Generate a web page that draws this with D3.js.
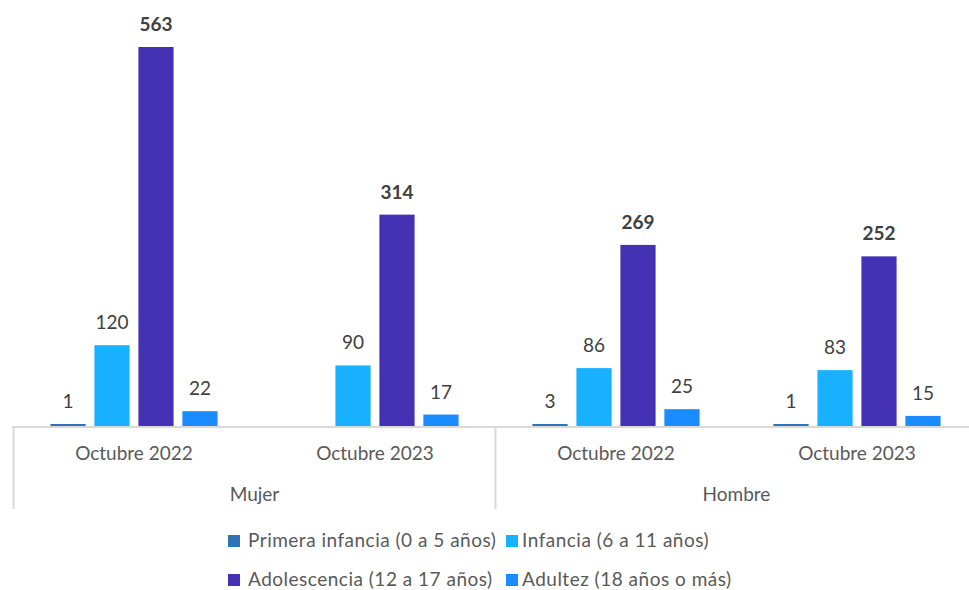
<!DOCTYPE html>
<html>
<head>
<meta charset="utf-8">
<script src="https://cdn.jsdelivr.net/npm/d3@7"></script>
<style>
  body { margin: 0; background: #fff; }
  svg { display: block; font-family: Lato, "Open Sans", sans-serif; }
</style>
</head>
<body>
<svg width="969" height="590"></svg>
<script>
// data
var groups = ["Mujer", "Hombre"];
var periods = ["Octubre 2022", "Octubre 2023"];
var series = ["Primera infancia (0 a 5 años)", "Infancia (6 a 11 años)", "Adolescencia (12 a 17 años)", "Adultez (18 años o más)"];
var colors = ["#2e73b8", "#17b1ff", "#4431b4", "#1a8cff"];
// one row per group/period, in series order (null = no bar)
var mujer2022 = [1, 120, 563, 22];
var mujer2023 = [null, 90, 314, 17];
var hombre2022 = [3, 86, 269, 25];
var hombre2023 = [1, 83, 252, 15];

var rows = [
  { group: "Mujer", period: "Octubre 2022", values: mujer2022 },
  { group: "Mujer", period: "Octubre 2023", values: mujer2023 },
  { group: "Hombre", period: "Octubre 2022", values: hombre2022 },
  { group: "Hombre", period: "Octubre 2023", values: hombre2023 }
];
rows.forEach(function (r, i) { r.key = i; });

var svg = d3.select("svg");
var baseY = 426;

var x0 = d3.scaleBand()
    .domain(rows.map(function (r) { return r.key; }))
    .range([13.5, 977.5]);

var x1 = d3.scaleBand()
    .domain(series)
    .range([0, x0.bandwidth()])
    .paddingInner(0.2)
    .paddingOuter(0.84);

var y = d3.scaleLinear()
    .domain([0, 563])
    .range([baseY, 47]);

var color = d3.scaleOrdinal().domain(series).range(colors);

// axis lines (drawn first so thin bars stay visible)
var lineColor = "#d9d9d9";
svg.append("line")
    .attr("x1", 12).attr("x2", 969)
    .attr("y1", baseY + 1).attr("y2", baseY + 1)
    .attr("stroke", lineColor).attr("stroke-width", 2);

[0, 2].forEach(function (k) {
    var xx = Math.round(x0(k)) - 0.5;
    svg.append("line")
        .attr("x1", xx).attr("x2", xx)
        .attr("y1", baseY).attr("y2", 509)
        .attr("stroke", lineColor).attr("stroke-width", 2);
});

// bars
var cat = svg.selectAll(".cat")
    .data(rows)
    .enter().append("g")
    .attr("class", "cat")
    .attr("transform", function (d) { return "translate(" + x0(d.key) + ",0)"; });

var bars = cat.selectAll(".bar")
    .data(function (d) {
        var vals = d.values;
        var mx = d3.max(vals);
        return series.map(function (s, i) { return { s: s, v: vals[i], max: vals[i] === mx }; })
            .filter(function (b) { return b.v != null; });
    })
    .enter();

bars.append("rect")
    .attr("x", function (d) { return x1(d.s); })
    .attr("width", x1.bandwidth())
    .attr("y", function (d) { return Math.min(y(d.v), baseY - 2); })
    .attr("height", function (d) { return Math.max(baseY - y(d.v), 2); })
    .attr("fill", function (d) { return color(d.s); });

bars.append("text")
    .attr("x", function (d) { return x1(d.s) + x1.bandwidth() / 2; })
    .attr("y", function (d) { return Math.min(y(d.v), baseY - 2) - 16; })
    .attr("text-anchor", "middle")
    .attr("font-size", 19)
    .attr("font-weight", function (d) { return d.max ? "bold" : "normal"; })
    .attr("fill", "#404040")
    .text(function (d) { return d.v; });

// period labels
svg.selectAll(".plab")
    .data(rows)
    .enter().append("text")
    .attr("x", function (d) { return x0(d.key) + x0.bandwidth() / 2; })
    .attr("y", 460)
    .attr("text-anchor", "middle")
    .attr("font-size", 19)
    .attr("fill", "#595959")
    .text(function (d) { return d.period; });

// group labels
svg.selectAll(".glab")
    .data(groups)
    .enter().append("text")
    .attr("x", function (d, i) { return x0(i * 2) + x0.bandwidth(); })
    .attr("y", 501)
    .attr("text-anchor", "middle")
    .attr("font-size", 19)
    .attr("fill", "#595959")
    .text(function (d) { return d; });

// legend, two rows of two
var legX = [228, 506];
var legY = [547, 586];
var leg = svg.selectAll(".leg")
    .data(series)
    .enter().append("g")
    .attr("class", "leg")
    .attr("transform", function (d, i) { return "translate(" + legX[i % 2] + "," + legY[Math.floor(i / 2)] + ")"; });

leg.append("rect")
    .attr("x", 0).attr("y", -12)
    .attr("width", 12).attr("height", 12)
    .attr("fill", function (d) { return color(d); });

leg.append("text")
    .attr("x", function (d, i) { return i % 2 ? 16 : 20; })
    .attr("y", 0)
    .attr("font-size", 19)
    .attr("letter-spacing", 0.5)
    .attr("fill", "#595959")
    .text(function (d) { return d; });
</script>
</body>
</html>
